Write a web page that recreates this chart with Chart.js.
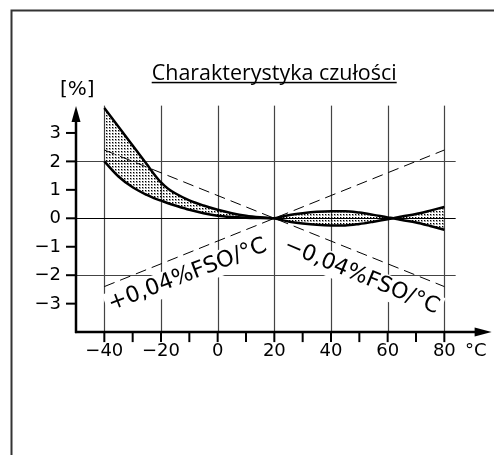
<!DOCTYPE html>
<html>
<head>
<meta charset="utf-8">
<script src="https://cdn.jsdelivr.net/npm/chart.js@4.4.1/dist/chart.umd.min.js"></script>
<style>
  html,body{margin:0;padding:0;background:#fff;overflow:hidden}
  canvas{display:block}
</style>
</head>
<body>
<canvas id="chart" width="494" height="455"></canvas>
<script>
// sensitivity band, -40..20 °C
const xLeft = [-40, -35, -30, -25, -22.5, -20, -17.5, -15, -10, -5, 0, 5, 10, 15, 20];
const upperLeft = [3.88, 3.22, 2.56, 1.9, 1.56, 1.26, 1.04, 0.88, 0.63, 0.45, 0.3, 0.18, 0.09, 0.035, 0];
const lowerLeft = [2.0, 1.47, 1.09, 0.82, 0.71, 0.62, 0.53, 0.45, 0.3, 0.18, 0.09, 0.045, 0.02, 0.008, 0];

// sensitivity band, 20..80 °C (two curves crossing at 62 °C)
const xRight = [20, 25, 30, 35, 40, 45, 50, 55, 60, 62, 65, 70, 75, 80];
const curveA = [0, 0.11, 0.18, 0.23, 0.25, 0.25, 0.2, 0.12, 0.03, 0, -0.06, -0.15, -0.27, -0.4];
const curveB = [0, -0.11, -0.18, -0.23, -0.25, -0.25, -0.2, -0.12, -0.03, 0, 0.06, 0.15, 0.27, 0.4];

// ±0,04 %FSO/°C limit lines
const limitX = [-40, 80];
const limitUp = [-2.4, 2.4];
const limitDown = [2.4, -2.4];

// axes
const xTickValues = [-40, -20, 0, 20, 40, 60, 80];
const xTickLabels = ['−40', '−20', '0', '20', '40', '60', '80'];
const xMinorTicks = [-40, -30, -20, -10, 0, 10, 20, 30, 40, 50, 60, 70, 80];
const yTickValues = [3, 2, 1, 0, -1, -2, -3];
const yTickLabels = ['3', '2', '1', '0', '−1', '−2', '−3'];
const hGridValues = [2, 0, -2];

const titleText = 'Charakterystyka czułości';
const unitText = '[%]';
const xUnitText = '°C';
const labelPlus = '+0,04%FSO/°C';
const labelMinus = '−0,04%FSO/°C';

const TICK_FONT = '"DejaVu Sans", sans-serif';

function pts(xs, ys){ return xs.map((x, i) => ({x, y: ys[i]})); }

// stipple fill, transparent between dots so grid shows through
function makeDots(){
  const c = document.createElement('canvas');
  c.width = 3; c.height = 3;
  const g = c.getContext('2d');
  g.fillStyle = 'rgba(0,0,0,0.35)';
  g.fillRect(1, 1, 2, 2);
  g.fillStyle = '#000';
  g.fillRect(1, 1, 1, 1);
  return g.createPattern(c, 'repeat');
}

// text sized to a given width
function fitFont(ctx, text, width, family){
  ctx.font = '100px ' + family;
  return 100 * width / ctx.measureText(text).width;
}

function rotLabel(ctx, text, cx, cy, deg, width){
  const size = fitFont(ctx, text, width, TICK_FONT);
  ctx.save();
  ctx.translate(cx, cy);
  ctx.rotate(deg * Math.PI / 180);
  ctx.fillStyle = '#fff';
  ctx.fillRect(-width/2 - 3, -size*0.55, width + 6, size*1.15);
  ctx.font = size.toFixed(2) + 'px ' + TICK_FONT;
  ctx.fillStyle = '#000';
  ctx.textAlign = 'center';
  ctx.textBaseline = 'middle';
  ctx.fillText(text, 0, 0);
  ctx.restore();
}

const decor = {
  id: 'decor',
  beforeDraw(chart){
    const ctx = chart.ctx, xs = chart.scales.x, ys = chart.scales.y;
    ctx.save();
    ctx.fillStyle = '#fff';
    ctx.fillRect(0, 0, chart.width, chart.height);
    // page frame
    ctx.strokeStyle = '#333';
    ctx.lineWidth = 2;
    ctx.beginPath();
    ctx.moveTo(11.5, chart.height + 2);
    ctx.lineTo(11.5, 10.5);
    ctx.lineTo(chart.width + 2, 10.5);
    ctx.stroke();

    // vertical grid
    ctx.strokeStyle = '#444';
    ctx.lineWidth = 1.2;
    xTickValues.forEach(v => {
      const px = Math.round(xs.getPixelForValue(v)) + 0.5;
      ctx.beginPath();
      ctx.moveTo(px, ys.getPixelForValue(3.96));
      ctx.lineTo(px, ys.getPixelForValue(-4));
      ctx.stroke();
    });
    // horizontal grid
    hGridValues.forEach(v => {
      const py = Math.round(ys.getPixelForValue(v)) + 0.5;
      ctx.strokeStyle = v === 0 ? '#000' : '#444';
      ctx.beginPath();
      ctx.moveTo(xs.getPixelForValue(-50), py);
      ctx.lineTo(xs.getPixelForValue(84), py);
      ctx.stroke();
    });
    ctx.restore();

    rotLabel(ctx, labelPlus, 187.5, 275, -21, 168);
    rotLabel(ctx, labelMinus, 361.5, 276.5, 22.5, 166);
  },
  afterDatasetsDraw(chart){
    const ctx = chart.ctx, xs = chart.scales.x, ys = chart.scales.y;
    const ax = xs.getPixelForValue(-50), ay = ys.getPixelForValue(-4);
    ctx.save();
    ctx.strokeStyle = '#000';
    ctx.fillStyle = '#000';
    ctx.lineWidth = 2.5;
    // y axis + arrow
    const yTip = ys.getPixelForValue(3.95);
    ctx.beginPath();
    ctx.moveTo(ax, ay + 1);
    ctx.lineTo(ax, yTip + 14);
    ctx.stroke();
    ctx.beginPath();
    ctx.moveTo(ax, yTip);
    ctx.lineTo(ax - 4.5, yTip + 16);
    ctx.lineTo(ax + 4.5, yTip + 16);
    ctx.closePath();
    ctx.fill();
    // x axis + arrow
    const xTip = xs.getPixelForValue(96.7);
    ctx.beginPath();
    ctx.moveTo(ax - 1, ay);
    ctx.lineTo(xTip - 14, ay);
    ctx.stroke();
    ctx.beginPath();
    ctx.moveTo(xTip, ay);
    ctx.lineTo(xTip - 17, ay - 4.5);
    ctx.lineTo(xTip - 17, ay + 4.5);
    ctx.closePath();
    ctx.fill();

    // ticks
    ctx.lineWidth = 2;
    xMinorTicks.forEach(v => {
      const px = xs.getPixelForValue(v);
      ctx.beginPath();
      ctx.moveTo(px, ay);
      ctx.lineTo(px, ay + 10);
      ctx.stroke();
    });
    yTickValues.forEach(v => {
      const py = ys.getPixelForValue(v);
      ctx.beginPath();
      ctx.moveTo(ax - 10, py);
      ctx.lineTo(ax, py);
      ctx.stroke();
    });

    // tick labels
    ctx.font = '18px ' + TICK_FONT;
    ctx.textBaseline = 'alphabetic';
    ctx.textAlign = 'center';
    xTickValues.forEach((v, i) => {
      ctx.fillText(xTickLabels[i], xs.getPixelForValue(v), ay + 24);
    });
    ctx.textAlign = 'left';
    ctx.fillText(xUnitText, 465, ay + 24);
    ctx.textAlign = 'right';
    ctx.textBaseline = 'middle';
    yTickValues.forEach((v, i) => {
      ctx.fillText(yTickLabels[i], 61, ys.getPixelForValue(v) + 0.5);
    });

    // unit
    ctx.font = '20px ' + TICK_FONT;
    ctx.textAlign = 'left';
    ctx.textBaseline = 'alphabetic';
    ctx.fillText(unitText, 60, 95);

    // title, underlined
    const tSize = fitFont(ctx, titleText, 245, '"Open Sans", sans-serif');
    ctx.font = tSize.toFixed(2) + 'px "Open Sans", sans-serif';
    ctx.textAlign = 'center';
    ctx.fillText(titleText, 274.2, 79.5);
    ctx.fillRect(151.7, 81.8, 245, 1.5);
    ctx.restore();
  }
};

const dots = makeDots();
const curveStyle = {
  borderColor: '#000',
  borderWidth: 2.5,
  pointRadius: 0,
  cubicInterpolationMode: 'monotone',
  backgroundColor: dots
};

new Chart(document.getElementById('chart'), {
  type: 'line',
  data: {
    datasets: [
      Object.assign({label: 'upper', data: pts(xLeft, upperLeft), fill: {target: 1}}, curveStyle),
      Object.assign({label: 'lower', data: pts(xLeft, lowerLeft), fill: false}, curveStyle),
      Object.assign({label: 'a', data: pts(xRight, curveA), fill: {target: 3}}, curveStyle),
      Object.assign({label: 'b', data: pts(xRight, curveB), fill: false}, curveStyle),
      {label: '+0,04', data: pts(limitX, limitUp), borderColor: '#000', borderWidth: 1,
        borderDash: [11, 6], pointRadius: 0, fill: false},
      {label: '-0,04', data: pts(limitX, limitDown), borderColor: '#000', borderWidth: 1,
        borderDash: [11, 6], pointRadius: 0, fill: false}
    ]
  },
  options: {
    responsive: false,
    animation: false,
    devicePixelRatio: 1,
    layout: {padding: {left: 76, right: 1.5, top: 104.5, bottom: 122.9}},
    plugins: {
      legend: {display: false},
      tooltip: {enabled: false},
      filler: {drawTime: 'beforeDatasetsDraw'}
    },
    scales: {
      x: {type: 'linear', min: -50, max: 97, display: false},
      y: {type: 'linear', min: -4, max: 4, display: false}
    }
  },
  plugins: [decor]
});
</script>
</body>
</html>
